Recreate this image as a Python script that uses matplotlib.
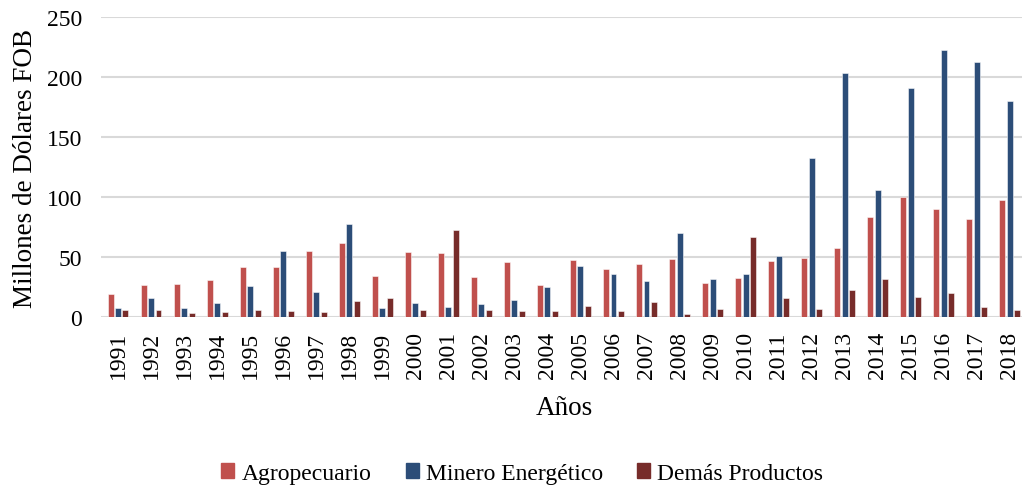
'''
Exportaciones por sector, 1991-2018
'''

#libraries
import matplotlib
matplotlib.use('Agg')
import matplotlib.pyplot as plt
from matplotlib.patches import Patch
import numpy as np
##########

#data
years = [str(y) for y in range(1991, 2019)]
agro = [19.8, 26.8, 27.6, 31.2, 42.0, 41.5, 55.4, 61.5, 34.3, 54.8,
        53.7, 34.0, 46.2, 26.8, 47.6, 40.1, 44.6, 48.8, 28.5, 32.7,
        46.5, 49.0, 57.7, 83.2, 100.4, 90.4, 82.0, 98.0]
minero = [7.9, 16.2, 7.9, 12.1, 26.2, 55.4, 21.2, 77.4, 7.9, 12.1,
          8.7, 11.2, 14.6, 25.1, 42.9, 36.0, 30.4, 70.4, 32.1, 36.0,
          51.2, 132.6, 203.2, 106.0, 191.0, 222.4, 212.4, 180.4]
demas = [6.0, 5.7, 3.5, 4.6, 6.2, 5.1, 4.3, 13.2, 16.5, 6.0,
         72.9, 6.0, 5.4, 5.4, 9.6, 4.9, 12.9, 2.9, 7.1, 66.8,
         16.2, 7.0, 22.7, 32.0, 17.0, 20.4, 8.7, 6.5]
series_names = ['Agropecuario', 'Minero Energético', 'Demás Productos']
##########

#style
COLORS = ['#C0504D', '#2C4D78', '#772C2A']
plt.rcParams['font.family'] = ['Liberation Serif', 'DejaVu Serif']
TICK_FS = 17
LABEL_FS = 19.5
##########

fig = plt.figure(figsize=(10.22, 4.89), dpi=100)
ax = fig.add_axes([0.0993, 0.349, 0.905, 0.614])

x = np.arange(len(years))
w = 0.18
step = 0.226
for i, (vals, c) in enumerate(zip([agro, minero, demas], COLORS)):
    ax.bar(x + (i - 1) * step, vals, width=w, color=c,
           edgecolor=(1, 1, 1, 0.6), linewidth=0.6, zorder=3)

ax.set_xlim(-0.5, len(years) - 0.5)
ax.set_ylim(0, 250)
ax.set_yticks(np.arange(0, 251, 50))
ax.grid(axis='y', color='#d9d9d9', linewidth=1.5, zorder=0)
ax.set_xticks(x)
ax.set_xticklabels(years, rotation=90)
ax.tick_params(axis='both', length=0, labelsize=TICK_FS)
ax.tick_params(axis='x', pad=10)
ax.tick_params(axis='y', pad=14)
for s in ax.spines.values():
    s.set_visible(False)

ax.set_ylabel('Millones de Dólares FOB', fontsize=LABEL_FS, labelpad=6)
ax.set_xlabel('Años', fontsize=LABEL_FS, labelpad=12)

handles = [Patch(color=c, label=n) for c, n in zip(COLORS, series_names)]
fig.legend(handles=handles, loc='center', bbox_to_anchor=(0.511, 0.03),
           ncol=3, frameon=False, fontsize=TICK_FS, handlelength=0.55,
           handleheight=0.55, handletextpad=0.3, columnspacing=1.45)

fig.savefig('out.png', dpi=100)
